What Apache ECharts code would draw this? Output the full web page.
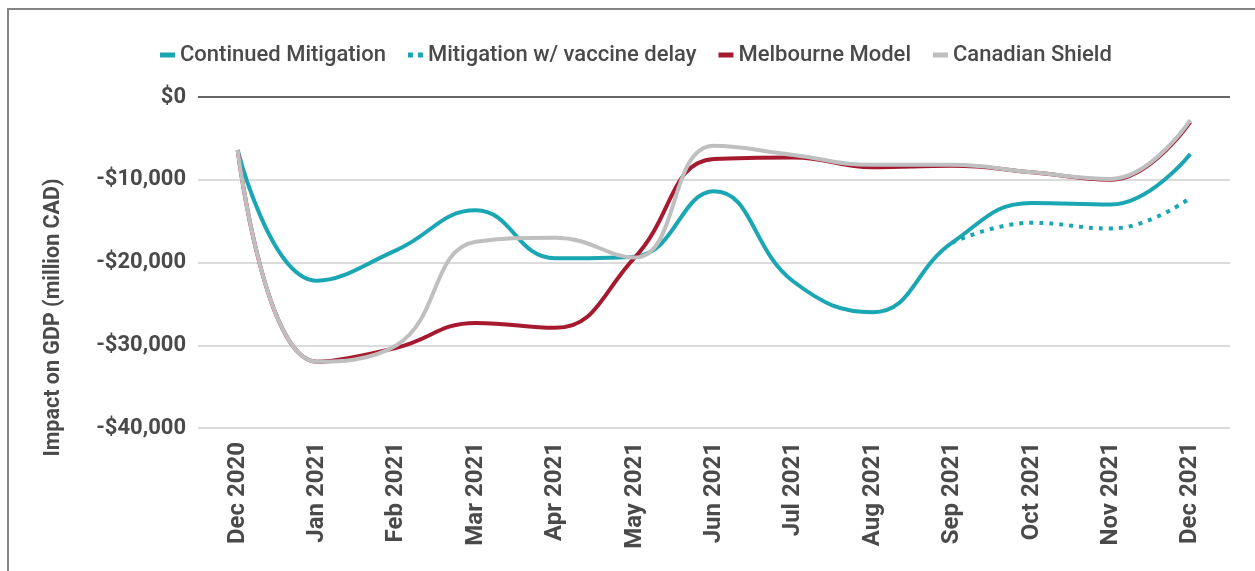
<!DOCTYPE html>
<html>
<head>
<meta charset="utf-8">
<script src="https://cdn.jsdelivr.net/npm/echarts@6/dist/echarts.min.js"></script>
<style>
  html, body { margin: 0; padding: 0; background: #fff; }
  #chart { width: 1255px; height: 571px; }
</style>
</head>
<body>
<div id="chart"></div>
<script>
const months = ['Dec 2020', 'Jan 2021', 'Feb 2021', 'Mar 2021', 'Apr 2021', 'May 2021', 'Jun 2021',
  'Jul 2021', 'Aug 2021', 'Sep 2021', 'Oct 2021', 'Nov 2021', 'Dec 2021']

const continued = [-6400, -22200, -18500, -13700, -19500, -19300, -11400, -22300, -26000, -17600, -12800, -13000, -6900]
const vaccineDelay = [null, null, null, null, null, null, null, null, null, -17600, -15200, -15900, -12200]
const melbourne = [-6400, -32000, -30300, -27300, -27900, -19400, -7500, -7300, -8500, -8300, -9100, -10000, -3000]
const shield = [-6400, -32000, -30000, -17500, -17000, -19400, -5900, -7000, -8200, -8200, -9100, -9900, -2800]

const TEAL = '#1aa6b3'
const RED = '#a6192e'
const GREY = '#bfbfbf'
const TEXT = '#4a4a4a'

const fmtMoney = (v) => (v < 0 ? '-$' : '$') + Math.abs(v).toLocaleString('en-US')

const chart = echarts.init(document.getElementById('chart'))

const line = (name, data, color, extra = {}) => ({
  name,
  type: 'line',
  data,
  smooth: 0.45,
  symbol: 'none',
  connectNulls: false,
  lineStyle: { color, width: 4, ...extra },
  itemStyle: { color }
})

chart.setOption({
  animation: false,
  textStyle: { fontFamily: 'Roboto' },
  graphic: [{
    type: 'rect',
    shape: { x: 8, y: 9, width: 1400, height: 700 },
    style: { fill: 'none', stroke: '#858585', lineWidth: 2 },
    silent: true
  }],
  legend: {
    left: 155,
    top: 39,
    itemWidth: 15,
    itemHeight: 5,
    itemGap: 22,
    textStyle: { fontSize: 22, fontWeight: 500, color: TEXT, fontFamily: 'Roboto' },
    data: [
      { name: 'Continued Mitigation', icon: 'rect', itemStyle: { color: TEAL } },
      { name: 'Mitigation w/ vaccine delay', icon: 'path://M0,0h5v5h-5z M10,0h5v5h-5z', itemStyle: { color: TEAL } },
      { name: 'Melbourne Model', icon: 'rect', itemStyle: { color: RED } },
      { name: 'Canadian Shield', icon: 'rect', itemStyle: { color: GREY } }
    ]
  },
  grid: { left: 198, right: 25, top: 97, bottom: 143, containLabel: false },
  xAxis: {
    type: 'category',
    data: months,
    boundaryGap: true,
    axisLine: { show: false },
    axisTick: { show: false },
    axisLabel: {
      rotate: 90,
      margin: 14,
      interval: 0,
      fontSize: 24,
      fontWeight: 'bold',
      color: TEXT,
      fontFamily: 'Roboto'
    }
  },
  yAxis: {
    type: 'value',
    min: -40000,
    max: 0,
    interval: 10000,
    name: 'Impact on GDP (million CAD)',
    nameLocation: 'middle',
    nameGap: 133,
    nameTextStyle: { fontSize: 21.5, fontWeight: 'bold', color: TEXT, fontFamily: 'Roboto', padding: [0, 110, 0, 0] },
    axisLine: { show: false },
    axisTick: { show: false },
    axisLabel: {
      margin: 12,
      fontSize: 22,
      fontWeight: 'bold',
      color: TEXT,
      fontFamily: 'Roboto',
      formatter: fmtMoney
    },
    splitLine: { lineStyle: { color: ['#cfcfcf', '#cfcfcf', '#cfcfcf', '#cfcfcf', '#333333'], width: 1.5 } }
  },
  series: [
    line('Mitigation w/ vaccine delay', vaccineDelay, TEAL, { type: [4, 6] }),
    line('Continued Mitigation', continued, TEAL),
    line('Melbourne Model', melbourne, RED),
    line('Canadian Shield', shield, GREY)
  ]
})
</script>
</body>
</html>
